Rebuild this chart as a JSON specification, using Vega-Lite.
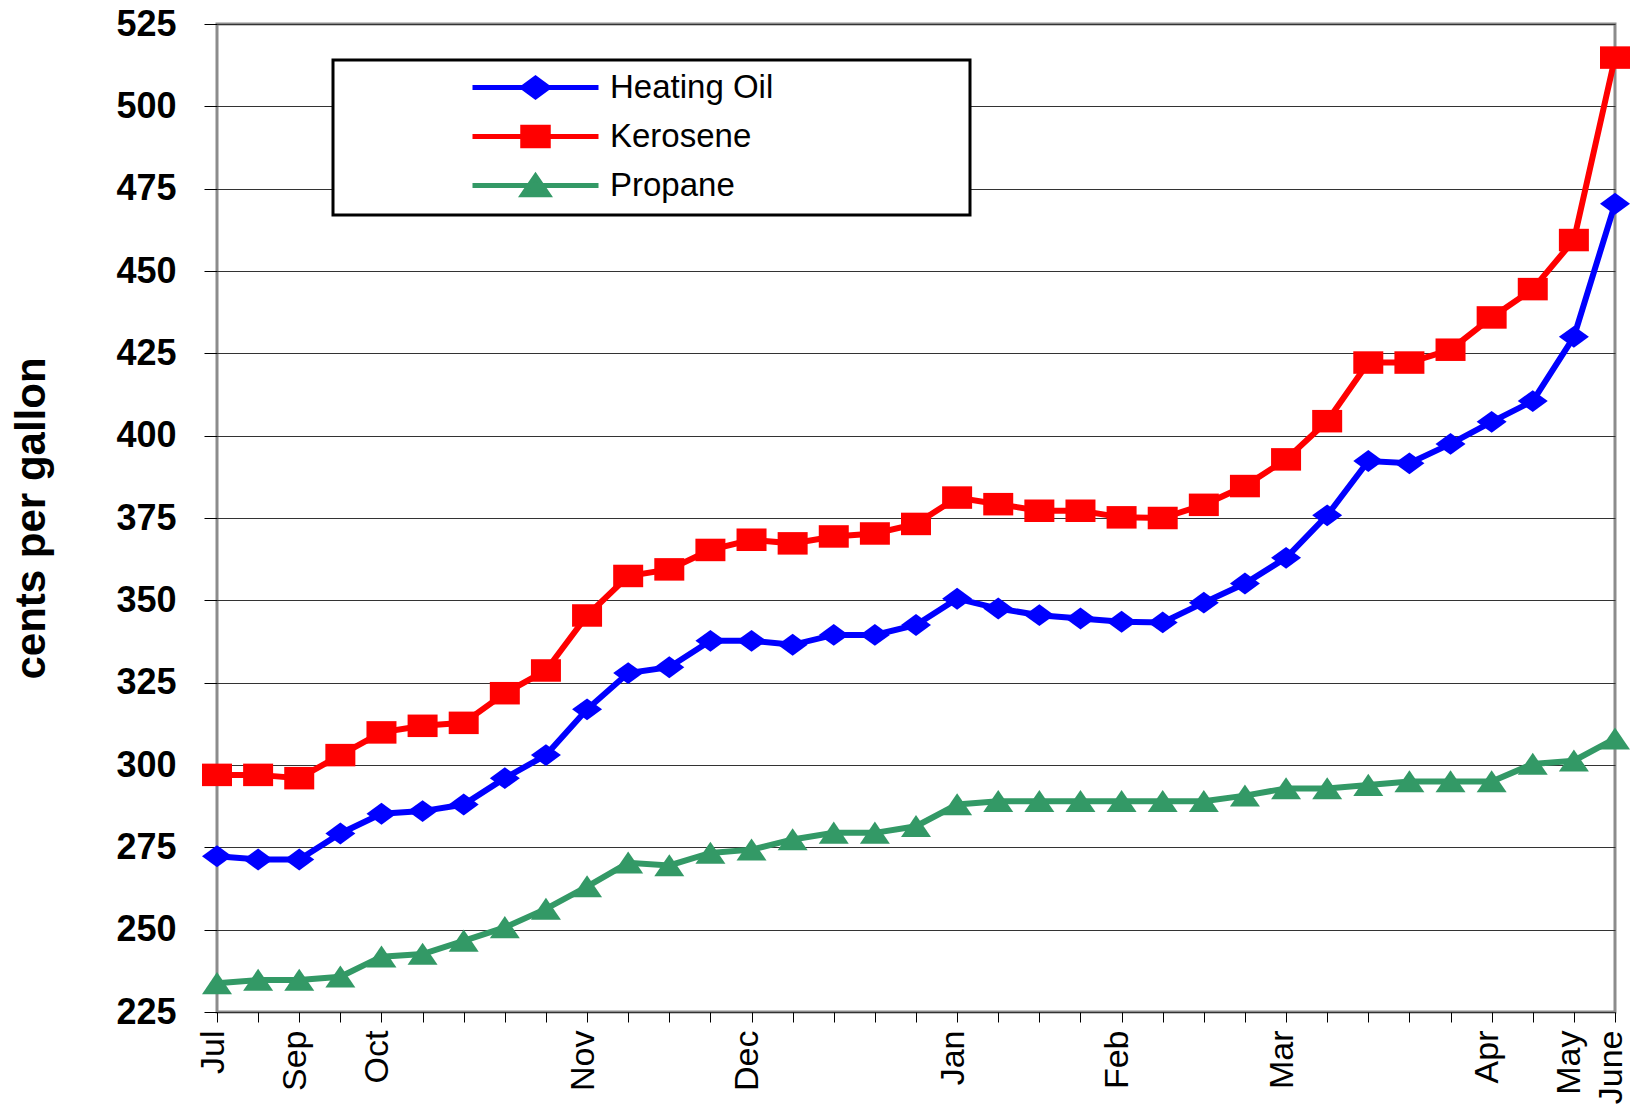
{
  "$schema": "https://vega.github.io/schema/vega-lite/v6.json",
  "width": 1398,
  "height": 988,
  "autosize": {"type": "none"},
  "padding": {"left": 217, "top": 24, "right": 15, "bottom": 99},
  "background": "white",
  "config": {
    "view": {"stroke": "#8c8c8c", "strokeWidth": 3},
    "font": "Liberation Sans",
    "axis": {"labelFont": "Liberation Sans", "titleFont": "Liberation Sans", "labelColor": "black", "titleColor": "black", "tickColor": "black", "domain": false},
    "legend": {
      "orient": "none",
      "legendX": 116,
      "legendY": 36,
      "titleOrient": "right",
      "titlePadding": 187,
      "titleFontSize": 1,
      "padding": 10,
      "fillColor": "white",
      "strokeColor": "black",
      "strokeWidth": 3,
      "symbolSize": 900,
      "symbolOffset": 175,
      "symbolStrokeWidth": 5,
      "symbolOpacity": 1,
      "labelOffset": 57,
      "rowPadding": 10,
      "labelFont": "Liberation Sans",
      "labelFontSize": 33,
      "labelColor": "black",
      "labelLimit": 400
    }
  },
  "data": {
    "values": [
      {"week": 1, "Heating Oil": 272.3, "Kerosene": 297.0, "Propane": 233.7},
      {"week": 2, "Heating Oil": 271.3, "Kerosene": 297.0, "Propane": 234.7},
      {"week": 3, "Heating Oil": 271.3, "Kerosene": 296.0, "Propane": 234.7},
      {"week": 4, "Heating Oil": 279.2, "Kerosene": 303.0, "Propane": 235.7},
      {"week": 5, "Heating Oil": 285.2, "Kerosene": 309.9, "Propane": 241.8},
      {"week": 6, "Heating Oil": 286.0, "Kerosene": 311.9, "Propane": 242.6},
      {"week": 7, "Heating Oil": 288.0, "Kerosene": 312.8, "Propane": 246.6},
      {"week": 8, "Heating Oil": 296.0, "Kerosene": 321.8, "Propane": 250.7},
      {"week": 9, "Heating Oil": 303.0, "Kerosene": 328.7, "Propane": 256.3},
      {"week": 10, "Heating Oil": 316.9, "Kerosene": 345.4, "Propane": 263.1},
      {"week": 11, "Heating Oil": 327.9, "Kerosene": 357.4, "Propane": 270.3},
      {"week": 12, "Heating Oil": 329.7, "Kerosene": 359.4, "Propane": 269.5},
      {"week": 13, "Heating Oil": 337.7, "Kerosene": 365.3, "Propane": 273.3},
      {"week": 14, "Heating Oil": 337.7, "Kerosene": 368.4, "Propane": 274.3},
      {"week": 15, "Heating Oil": 336.5, "Kerosene": 367.3, "Propane": 277.4},
      {"week": 16, "Heating Oil": 339.5, "Kerosene": 369.4, "Propane": 279.4},
      {"week": 17, "Heating Oil": 339.5, "Kerosene": 370.3, "Propane": 279.4},
      {"week": 18, "Heating Oil": 342.5, "Kerosene": 373.2, "Propane": 281.4},
      {"week": 19, "Heating Oil": 350.5, "Kerosene": 381.2, "Propane": 288.0},
      {"week": 20, "Heating Oil": 347.5, "Kerosene": 379.2, "Propane": 289.0},
      {"week": 21, "Heating Oil": 345.5, "Kerosene": 377.2, "Propane": 289.0},
      {"week": 22, "Heating Oil": 344.5, "Kerosene": 377.2, "Propane": 289.0},
      {"week": 23, "Heating Oil": 343.5, "Kerosene": 375.2, "Propane": 289.0},
      {"week": 24, "Heating Oil": 343.3, "Kerosene": 375.0, "Propane": 289.0},
      {"week": 25, "Heating Oil": 349.3, "Kerosene": 379.0, "Propane": 289.0},
      {"week": 26, "Heating Oil": 355.1, "Kerosene": 384.7, "Propane": 290.7},
      {"week": 27, "Heating Oil": 362.9, "Kerosene": 392.8, "Propane": 292.9},
      {"week": 28, "Heating Oil": 375.8, "Kerosene": 404.4, "Propane": 292.9},
      {"week": 29, "Heating Oil": 392.3, "Kerosene": 422.2, "Propane": 293.9},
      {"week": 30, "Heating Oil": 391.6, "Kerosene": 422.2, "Propane": 295.0},
      {"week": 31, "Heating Oil": 397.5, "Kerosene": 426.1, "Propane": 295.0},
      {"week": 32, "Heating Oil": 404.2, "Kerosene": 435.9, "Propane": 295.0},
      {"week": 33, "Heating Oil": 410.5, "Kerosene": 444.5, "Propane": 300.3},
      {"week": 34, "Heating Oil": 430.0, "Kerosene": 459.4, "Propane": 301.3},
      {"week": 35, "Heating Oil": 470.4, "Kerosene": 514.8, "Propane": 308.0}
    ]
  },
  "transform": [{"fold": ["Heating Oil", "Kerosene", "Propane"], "as": ["series", "cents"]}],
  "encoding": {
    "x": {
      "field": "week",
      "type": "quantitative",
      "scale": {"domain": [1, 35], "nice": false, "zero": false},
      "axis": {
        "title": null,
        "values": [1,2,3,4,5,6,7,8,9,10,11,12,13,14,15,16,17,18,19,20,21,22,23,24,25,26,27,28,29,30,31,32,33,34,35],
        "labelExpr": "datum.value == 1 ? 'Jul' : datum.value == 3 ? 'Sep' : datum.value == 5 ? 'Oct' : datum.value == 10 ? 'Nov' : datum.value == 14 ? 'Dec' : datum.value == 19 ? 'Jan' : datum.value == 23 ? 'Feb' : datum.value == 27 ? 'Mar' : datum.value == 32 ? 'Apr' : datum.value == 34 ? 'May' : datum.value == 35 ? 'June' : ''",
        "labelAngle": 270,
        "labelFontSize": 34,
        "labelPadding": 8,
        "labelOffset": -4,
        "tickSize": 10,
        "tickWidth": 1,
        "grid": false,
        "labelOverlap": false,
        "labelFlush": false,
        "labelBound": false
      }
    },
    "y": {
      "field": "cents",
      "type": "quantitative",
      "scale": {"domain": [225, 525], "nice": false, "zero": false},
      "axis": {
        "values": [225, 250, 275, 300, 325, 350, 375, 400, 425, 450, 475, 500, 525],
        "title": "cents per gallon",
        "titleFontSize": 42,
        "titleFontWeight": "bold",
        "titlePadding": 62,
        "labelFontSize": 36,
        "labelFontWeight": "bold",
        "labelPadding": 28,
        "tickSize": 13,
        "tickWidth": 1,
        "grid": true,
        "gridColor": "#333333",
        "gridWidth": 1,
        "labelOverlap": false,
        "labelFlush": false
      }
    }
  },
  "layer": [
    {
      "mark": {"type": "line", "strokeWidth": 6},
      "encoding": {
        "color": {
          "field": "series",
          "type": "nominal",
          "title": " ",
          "scale": {"domain": ["Heating Oil", "Kerosene", "Propane"], "range": ["#0000ff", "#ff0000", "#339966"]}
        }
      }
    },
    {
      "transform": [{"filter": "datum.series === 'Heating Oil'"}],
      "mark": {"type": "point", "filled": true, "opacity": 1, "size": 900, "color": "#0000ff", "shape": "M-1,0L0,-0.73L1,0L0,0.73Z"}
    },
    {
      "transform": [{"filter": "datum.series === 'Kerosene'"}],
      "mark": {"type": "point", "filled": true, "opacity": 1, "size": 900, "color": "#ff0000", "shape": "M-1,-0.75H1V0.75H-1Z"}
    },
    {
      "transform": [{"filter": "datum.series === 'Propane'"}],
      "mark": {"type": "point", "filled": true, "opacity": 1, "size": 900, "color": "#339966", "shape": "M0,-0.75L1,0.72L-1,0.72Z"}
    },
    {
      "transform": [{"filter": "datum.week < 0"}],
      "mark": {"type": "point", "filled": true, "opacity": 1, "size": 900},
      "encoding": {
        "color": {
          "field": "series",
          "type": "nominal",
          "title": " ",
          "scale": {"domain": ["Heating Oil", "Kerosene", "Propane"], "range": ["#0000ff", "#ff0000", "#339966"]}
        },
        "shape": {
          "field": "series",
          "type": "nominal",
          "title": " ",
          "scale": {"domain": ["Heating Oil", "Kerosene", "Propane"], "range": ["M-4.2,0H4.2M-0.85,0L0,-0.62L0.85,0L0,0.62Z", "M-4.2,0H4.2M-0.85,-0.62H0.85V0.62H-0.85Z", "M-4.2,0H4.2M0,-0.62L0.85,0.62L-0.85,0.62Z"]}
        }
      }
    },
    {
      "data": {"values": [{"marker": "Sep"}]},
      "mark": {"type": "rule", "color": "black", "strokeWidth": 3},
      "encoding": {
        "x": {"datum": 3, "type": "quantitative"},
        "y": {"datum": 229.2, "type": "quantitative"},
        "y2": {"datum": 464}
      }
    }
  ]
}
